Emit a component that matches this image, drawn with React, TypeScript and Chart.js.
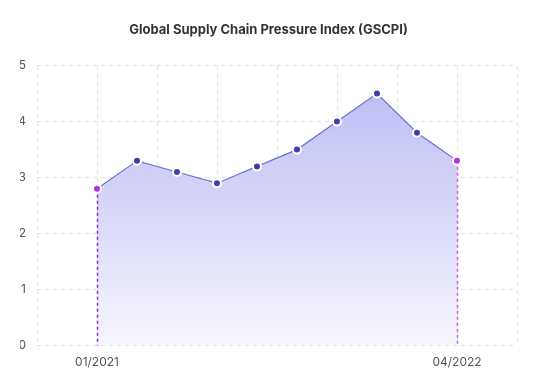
import React, { useEffect, useRef } from "react";
import { Chart, registerables } from "chart.js";

Chart.register(...registerables);

const TITLE = "Global Supply Chain Pressure Index (GSCPI)";
const POINT_LABELS = ["01/2021", "", "", "", "", "", "", "", "", "04/2022"];
const GSCPI_VALUES = [2.8, 3.3, 3.1, 2.9, 3.2, 3.5, 4.0, 4.5, 3.8, 3.3];
const Y_MIN = 0;
const Y_MAX = 5;
const GRID_MIN = 0;
const GRID_MAX = 8;

const FONT = "Inter, 'Open Sans', sans-serif";

export default function App() {
  const ref = useRef<HTMLCanvasElement | null>(null);

  useEffect(() => {
    if (!ref.current) return;
    const categories = ["", ...POINT_LABELS, ""];
    const values: (number | null)[] = [null, ...GSCPI_VALUES, null];
    const firstIdx = 1;
    const lastIdx = GSCPI_VALUES.length;

    const edgeLines = {
      id: "edgeLines",
      afterDatasetsDraw(chart: any) {
        const meta = chart.getDatasetMeta(0);
        const ctx = chart.ctx;
        const bottom = chart.chartArea.bottom;
        const specs = [
          { idx: firstIdx, color: "#9326cc" },
          { idx: lastIdx, color: "#c65cf2" },
        ];
        ctx.save();
        for (const s of specs) {
          const el = meta.data[s.idx];
          if (!el) continue;
          ctx.beginPath();
          ctx.setLineDash([3, 3]);
          ctx.lineWidth = 1.5;
          ctx.strokeStyle = s.color;
          ctx.moveTo(Math.round(el.x) + 0.5, el.y + 6);
          ctx.lineTo(Math.round(el.x) + 0.5, bottom);
          ctx.stroke();
        }
        ctx.restore();
      },
    };

    const chart = new Chart(ref.current, {
      type: "line",
      data: {
        labels: categories,
        datasets: [
          {
            data: values,
            borderColor: "#7272cc",
            borderWidth: 1.2,
            tension: 0,
            fill: "origin",
            backgroundColor: (c: any) => {
              const area = c.chart.chartArea;
              if (!area) return "rgba(190,190,245,0.8)";
              const g = c.chart.ctx.createLinearGradient(0, area.top, 0, area.bottom);
              g.addColorStop(0, "rgb(184,184,244)");
              g.addColorStop(1, "rgb(246,246,253)");
              return g;
            },
            pointRadius: 4,
            pointHoverRadius: 4,
            pointBorderWidth: 2,
            pointBorderColor: "#ffffff",
            pointBackgroundColor: (c: any) =>
              c.dataIndex === firstIdx || c.dataIndex === lastIdx ? "#b131e6" : "#3f3fb2",
          },
        ],
      },
      options: {
        animation: false,
        responsive: true,
        maintainAspectRatio: false,
        layout: { padding: { left: 20, right: 20, top: 0, bottom: 10 } },
        plugins: {
          legend: { display: false },
          tooltip: { enabled: false },
          title: {
            display: true,
            text: TITLE,
            color: "#333333",
            font: { family: FONT, size: 13, weight: "bold" },
            padding: { top: 22, bottom: 28 },
          },
        },
        scales: {
          x: {
            type: "category",
            position: "bottom",
            offset: true,
            grid: { display: false, drawTicks: false },
            border: { display: false },
            ticks: {
              autoSkip: false,
              maxRotation: 0,
              padding: 10,
              color: "#555555",
              font: { family: FONT, size: 12 },
            },
          },
          xg: {
            type: "linear",
            position: "top",
            min: GRID_MIN,
            max: GRID_MAX,
            grid: { color: "#e0e0e0", lineWidth: 1, drawTicks: false },
            border: { display: false, dash: [4, 4] },
            ticks: { display: false, stepSize: 1 },
          } as any,
          y: {
            min: Y_MIN,
            max: Y_MAX,
            afterFit: (s: any) => {
              s.width = 17;
            },
            grid: { color: "#e0e0e0", lineWidth: 1, drawTicks: false },
            border: { display: false },
            ticks: {
              stepSize: 1,
              padding: 11,
              color: "#555555",
              font: { family: FONT, size: 12 },
            },
          },
        },
      },
      plugins: [edgeLines],
    } as any);

    (chart.options.scales as any).xg.grid.borderDash = [4, 4];
    (chart.options.scales as any).y.grid.borderDash = [4, 4];
    (chart.options.scales as any).xg.border.dash = [4, 4];
    (chart.options.scales as any).y.border.dash = [4, 4];
    chart.update();

    return () => chart.destroy();
  }, []);

  return (
    <div style={{ position: "fixed", left: 0, top: 0, width: 537, height: 390 }}>
      <canvas ref={ref} />
    </div>
  );
}
